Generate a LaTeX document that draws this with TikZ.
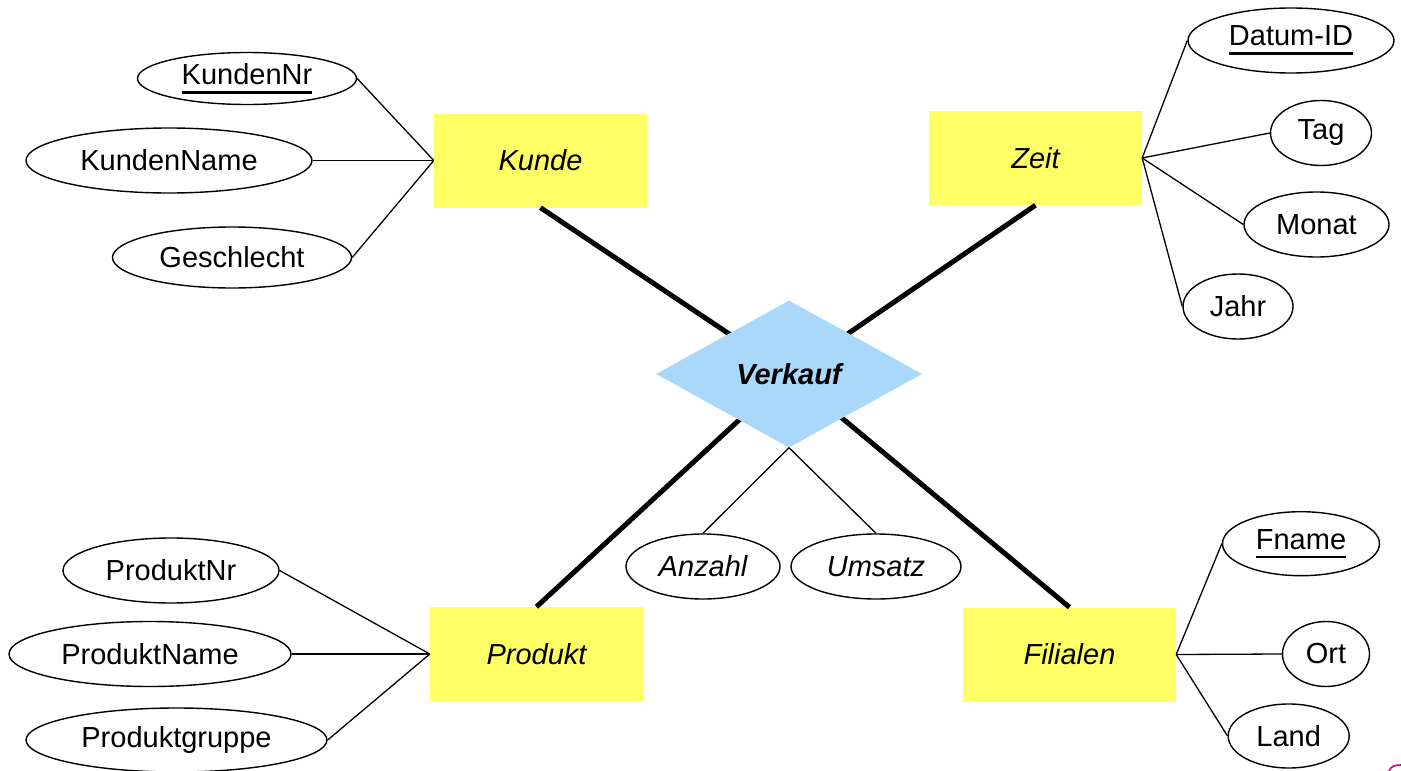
\documentclass[tikz,border=0pt]{standalone}
\usepackage{fontspec}
\setmainfont{Liberation Sans}
\usetikzlibrary{shapes.geometric}
\definecolor{entyellow}{RGB}{255,255,102}
\definecolor{relblue}{RGB}{170,216,250}
\definecolor{markpink}{RGB}{220,0,120}
\newcommand\keyul[1]{\setbox0\hbox{#1}\rlap{\rule[-9pt]{\wd0}{2.5pt}}\box0}
\newcommand\bigtxt{\fontsize{29}{34}\selectfont}
\tikzset{
  entity/.style={fill=entyellow, draw=none, rectangle, minimum width=213pt, minimum height=94pt, inner sep=0pt, font=\bigtxt\itshape},
  attr/.style={draw=black, line width=1.4pt, ellipse, inner sep=0pt, font=\bigtxt},
  rel/.style={fill=relblue, draw=none, diamond, aspect=1.8, inner sep=0pt, minimum width=266pt, minimum height=147pt, font=\bigtxt\bfseries\itshape},
  thick link/.style={line width=5pt, black},
  thin link/.style={line width=1.3pt, black}
}
\begin{document}
\begin{tikzpicture}[x=1pt,y=-1pt]
\useasboundingbox (0,0) rectangle (1401,771);
\fill[white] (0,0) rectangle (1401,771);
% entities
\node[entity] (kunde) at (540.5,160.5) {Kunde};
\node[entity] (zeit) at (1035.5,158) {Zeit};
\node[entity] (produkt) at (536.5,654) {Produkt};
\node[entity] (filialen) at (1069.5,654.5) {Filialen};
\coordinate (vc) at (789,374);
% thick links
\draw[thick link] (kunde.south) -- (vc);
\draw[thick link] (zeit.south) -- (vc);
\draw[thick link] (produkt.north) -- (vc);
\draw[thick link] (filialen.north) -- (vc);
% relationship
\node[rel] (verkauf) at (vc) {Verkauf};
% attributes
\node[attr, minimum width=219pt, minimum height=52pt] (kundennr) at (247,78.5) {\keyul{KundenNr}};
\node[attr, minimum width=286pt, minimum height=65pt] (kundenname) at (169,160.5) {KundenName};
\node[attr, minimum width=239pt, minimum height=61pt] (geschlecht) at (232,257.5) {Geschlecht};
\node[attr, minimum width=206pt, minimum height=65pt] (datumid) at (1291,40.5) {\keyul{Datum-ID}};
\node[attr, minimum width=101pt, minimum height=65pt] (tag) at (1321,133) {Tag};
\node[attr, minimum width=145pt, minimum height=65pt] (monat) at (1316.5,224.5) {Monat};
\node[attr, minimum width=110pt, minimum height=65pt] (jahr) at (1238,306.5) {Jahr};
\node[attr, minimum width=154pt, minimum height=65pt, font=\bigtxt\itshape] (anzahl) at (703,566.5) {Anzahl};
\node[attr, minimum width=170pt, minimum height=65pt, font=\bigtxt\itshape] (umsatz) at (876,566.5) {Umsatz};
\node[attr, minimum width=216pt, minimum height=65pt] (produktnr) at (171,570.5) {ProduktNr};
\node[attr, minimum width=282pt, minimum height=65pt] (produktname) at (150,654) {ProduktName};
\node[attr, minimum width=301pt, minimum height=64pt] (produktgruppe) at (176.5,740) {Produktgruppe};
\node[attr, minimum width=157pt, minimum height=64pt] (fname) at (1301,543.7) {\keyul{Fname}};
\node[attr, minimum width=87pt, minimum height=65pt] (ort) at (1326,654) {Ort};
\node[attr, minimum width=121pt, minimum height=64pt] (land) at (1288.7,736) {Land};
% thin links
\draw[thin link] (kundennr.east) -- (kunde.west);
\draw[thin link] (kundenname.east) -- (kunde.west);
\draw[thin link] (geschlecht.east) -- (kunde.west);
\draw[thin link] (datumid.west) -- (zeit.east);
\draw[thin link] (tag.west) -- (zeit.east);
\draw[thin link] (monat.west) -- (zeit.east);
\draw[thin link] (jahr.west) -- (zeit.east);
\draw[thin link] (anzahl.north) -- (verkauf.south);
\draw[thin link] (umsatz.north) -- (verkauf.south);
\draw[thin link] (produktnr.east) -- (produkt.west);
\draw[thin link] (produktname.east) -- (produkt.west);
\draw[thin link] (produktgruppe.east) -- (produkt.west);
\draw[thin link] (fname.west) -- (filialen.east);
\draw[thin link] (ort.west) -- (filialen.east);
\draw[thin link] (land.west) -- (filialen.east);
% corner mark
\draw[markpink, line width=1.6pt] (1389,771) .. controls (1391,766) and (1395,765) .. (1401,765);
\end{tikzpicture}
\end{document}
